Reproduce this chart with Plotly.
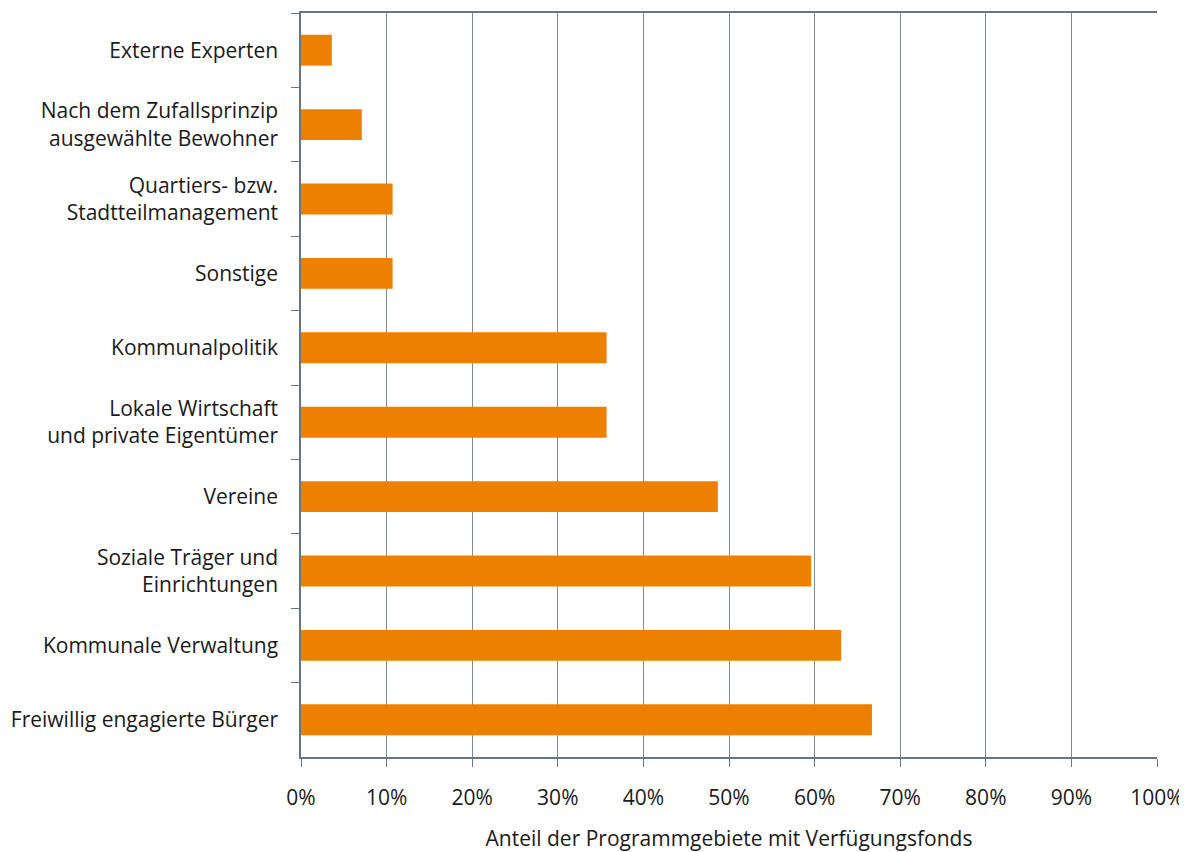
import plotly.graph_objects as go

categories = [
    "Externe Experten",
    "Nach dem Zufallsprinzip<br>ausgewählte Bewohner",
    "Quartiers- bzw.<br>Stadtteilmanagement",
    "Sonstige",
    "Kommunalpolitik",
    "Lokale Wirtschaft<br>und private Eigentümer",
    "Vereine",
    "Soziale Träger und<br>Einrichtungen",
    "Kommunale Verwaltung",
    "Freiwillig engagierte Bürger",
]
values = [3.6, 7.1, 10.7, 10.7, 35.7, 35.7, 48.7, 59.6, 63.1, 66.7]
x_ticks = [0, 10, 20, 30, 40, 50, 60, 70, 80, 90, 100]
x_title = "Anteil der Programmgebiete mit Verfügungsfonds"

fig = go.Figure(go.Bar(
    y=categories, x=values, orientation="h",
    marker=dict(color="#ee8000", line=dict(width=0)),
))

axis_col = "#66757f"
fig.update_layout(
    width=1179, height=844,
    margin=dict(l=293, r=30, t=3, b=95),
    paper_bgcolor="white", plot_bgcolor="white",
    font=dict(family="Open Sans", size=21, color="#1a1a1a"),
    bargap=0.585,
    showlegend=False,
)
fig.update_xaxes(
    range=[0, 100], tickvals=x_ticks, ticktext=[f"{v}%" for v in x_ticks],
    showgrid=True, gridcolor="#7f8c90", gridwidth=1.3,
    showline=True, linecolor=axis_col, linewidth=1.5, mirror=True,
    ticks="outside", ticklen=8, tickcolor=axis_col, tickwidth=1.3,
    ticklabelstandoff=13, zeroline=False,
    title=dict(text=x_title, standoff=22, font=dict(size=21)),
)
fig.update_yaxes(
    autorange="reversed", showgrid=False,
    showline=True, linecolor=axis_col, linewidth=1.5,
    ticks="outside", ticklen=8, tickcolor=axis_col, tickwidth=1.3,
    tickson="boundaries", ticklabelstandoff=17,
)
fig.write_html("out.html")
